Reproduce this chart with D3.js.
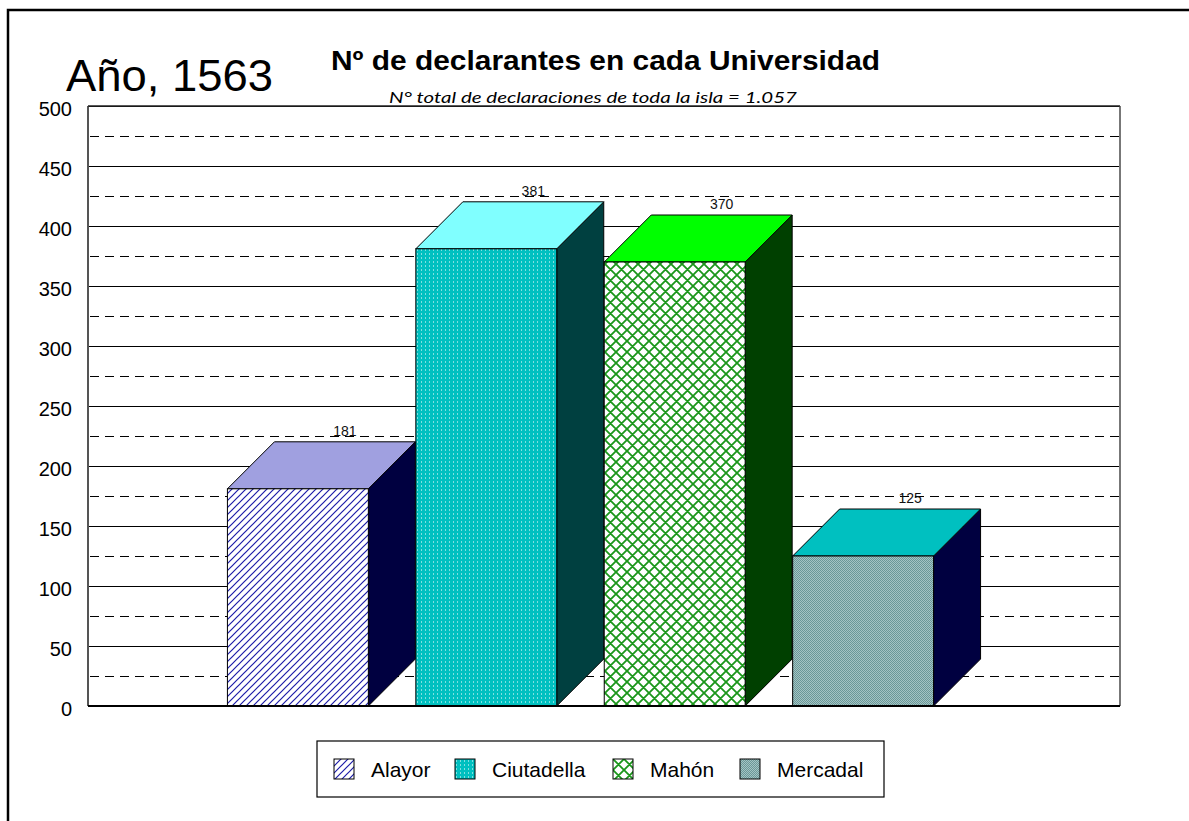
<!DOCTYPE html>
<html>
<head>
<meta charset="utf-8">
<script src="https://cdn.jsdelivr.net/npm/d3@7"></script>
<style>
  body { margin: 0; background: #fff; overflow: hidden; }
  svg { display: block; }
</style>
</head>
<body>
<svg id="chart"></svg>
<script>
// Nº de declarantes en cada Universidad, año 1563 (pseudo-3D column chart)
var categories = ['Alayor', 'Ciutadella', 'Mahón', 'Mercadal'];
var values = [181, 381, 370, 125];
var majorTicks = [0, 50, 100, 150, 200, 250, 300, 350, 400, 450, 500];
var minorTicks = [25, 75, 125, 175, 225, 275, 325, 375, 425, 475];
var frontFill = ['url(#p-alayor)', 'url(#p-ciutadella)', 'url(#p-mahon)', 'url(#p-mercadal)'];
var topFill = ['#a0a0e0', '#80ffff', '#00ff00', '#00c0c0'];
var sideFill = ['#000040', '#004040', '#004000', '#000040'];

var W = 1189, H = 821;
var plot = {left: 88, right: 1120, top: 106, bottom: 706};
var depth = 47;

var svg = d3.select('#chart').attr('width', W).attr('height', H);
var defs = svg.append('defs');

// fill patterns for the front faces
var pa = defs.append('pattern').attr('id', 'p-alayor')
	.attr('patternUnits', 'userSpaceOnUse').attr('width', 7).attr('height', 7);
pa.append('rect').attr('width', 7).attr('height', 7).attr('fill', '#fff');
pa.append('path').attr('d', 'M-1,1 L1,-1 M0,7 L7,0 M6,8 L8,6')
	.attr('stroke', '#1c1ca8').attr('stroke-width', 1.2);

var pc = defs.append('pattern').attr('id', 'p-ciutadella')
	.attr('patternUnits', 'userSpaceOnUse').attr('width', 4).attr('height', 4);
pc.append('rect').attr('width', 4).attr('height', 4).attr('fill', '#00c0c0');
pc.append('rect').attr('x', 1).attr('y', 1).attr('width', 1).attr('height', 2).attr('fill', '#7fe0e0');

var pm = defs.append('pattern').attr('id', 'p-mahon')
	.attr('patternUnits', 'userSpaceOnUse').attr('width', 11).attr('height', 11);
pm.append('rect').attr('width', 11).attr('height', 11).attr('fill', '#fff');
pm.append('path').attr('d', 'M0,0 L11,11 M11,0 L0,11 M-1,10 L1,12 M10,-1 L12,1 M-1,1 L1,-1 M10,12 L12,10')
	.attr('stroke', '#1a961a').attr('stroke-width', 1.8);

var pr = defs.append('pattern').attr('id', 'p-mercadal')
	.attr('patternUnits', 'userSpaceOnUse').attr('width', 2).attr('height', 2);
pr.append('rect').attr('width', 2).attr('height', 2).attr('fill', '#a4c4c4');
pr.append('rect').attr('width', 1).attr('height', 1).attr('fill', '#6a9898');
pr.append('rect').attr('x', 1).attr('y', 1).attr('width', 1).attr('height', 1).attr('fill', '#6a9898');

// outer frame: only its top and left edges fall inside the picture
svg.append('path')
	.attr('d', 'M8,' + H + 'L8,10L' + W + ',10')
	.attr('fill', 'none').attr('stroke', '#000').attr('stroke-width', 2.5);

var x = d3.scaleBand()
	.domain(categories)
	.range([plot.left, plot.right - depth])
	.paddingInner(0.252)
	.paddingOuter(0.74);

var y = d3.scaleLinear()
	.domain([0, 500])
	.range([plot.bottom, plot.top]);

// gridlines
svg.append('g').attr('shape-rendering', 'crispEdges').selectAll('line')
	.data(majorTicks)
	.join('line')
		.attr('x1', plot.left).attr('x2', plot.right)
		.attr('y1', function(d) { return y(d); }).attr('y2', function(d) { return y(d); })
		.attr('stroke', '#000').attr('stroke-width', 1);

svg.append('g').attr('shape-rendering', 'crispEdges').selectAll('line')
	.data(minorTicks)
	.join('line')
		.attr('x1', plot.left + 2).attr('x2', plot.right)
		.attr('y1', function(d) { return y(d); }).attr('y2', function(d) { return y(d); })
		.attr('stroke', '#000').attr('stroke-width', 1)
		.attr('stroke-dasharray', '9,6');

// y axis labels
var yAxis = svg.append('g')
	.attr('transform', 'translate(' + plot.left + ',0)')
	.call(d3.axisLeft(y).tickValues(majorTicks).tickSize(0).tickPadding(16));
yAxis.select('.domain').remove();
yAxis.selectAll('text')
	.attr('font-family', 'Liberation Sans, Arial, sans-serif')
	.attr('font-size', 20)
	.attr('fill', '#000')
	.attr('dy', '0.45em');

// plot frame
svg.append('line').attr('x1', plot.left).attr('x2', plot.left).attr('y1', plot.top).attr('y2', plot.bottom)
	.attr('stroke', '#555').attr('stroke-width', 2);
svg.append('line').attr('x1', plot.right).attr('x2', plot.right).attr('y1', plot.top).attr('y2', plot.bottom)
	.attr('stroke', '#777').attr('stroke-width', 2);
svg.append('line').attr('x1', plot.left).attr('x2', plot.right).attr('y1', plot.top).attr('y2', plot.top)
	.attr('stroke', '#222').attr('stroke-width', 1.5);

// bars: side, top, front
var bars = svg.append('g').selectAll('g.bar')
	.data(values)
	.join('g')
		.attr('class', 'bar');

bars.append('path')
	.attr('d', function(d, i) {
		var x1 = x(categories[i]) + x.bandwidth(), y0 = y(0), y1 = y(d);
		return 'M' + x1 + ',' + y1 + 'L' + (x1 + depth) + ',' + (y1 - depth) +
			'L' + (x1 + depth) + ',' + (y0 - depth) + 'L' + x1 + ',' + y0 + 'Z';
	})
	.attr('fill', function(d, i) { return sideFill[i]; })
	.attr('stroke', '#000').attr('stroke-width', 1);

bars.append('path')
	.attr('d', function(d, i) {
		var x0 = x(categories[i]), x1 = x0 + x.bandwidth(), y1 = y(d);
		return 'M' + x0 + ',' + y1 + 'L' + (x0 + depth) + ',' + (y1 - depth) +
			'L' + (x1 + depth) + ',' + (y1 - depth) + 'L' + x1 + ',' + y1 + 'Z';
	})
	.attr('fill', function(d, i) { return topFill[i]; })
	.attr('stroke', '#000').attr('stroke-width', 1);

bars.append('rect')
	.attr('x', function(d, i) { return x(categories[i]); })
	.attr('y', function(d) { return y(d); })
	.attr('width', x.bandwidth())
	.attr('height', function(d) { return y(0) - y(d); })
	.attr('fill', function(d, i) { return frontFill[i]; })
	.attr('stroke', '#000').attr('stroke-width', 1);

bars.append('text')
	.attr('x', function(d, i) { return x(categories[i]) + x.bandwidth() / 2 + depth; })
	.attr('y', function(d) { return y(d) - depth - 6; })
	.attr('text-anchor', 'middle')
	.attr('font-family', 'Liberation Sans, Arial, sans-serif')
	.attr('font-size', 14)
	.attr('fill', '#111')
	.text(function(d) { return d; });

// floor line
svg.append('line').attr('x1', plot.left).attr('x2', plot.right).attr('y1', plot.bottom).attr('y2', plot.bottom)
	.attr('stroke', '#000').attr('stroke-width', 2);

// titles
svg.append('text')
	.attr('x', 66).attr('y', 91)
	.attr('font-family', 'Liberation Sans, Arial, sans-serif')
	.attr('font-size', 45)
	.attr('textLength', 207).attr('lengthAdjust', 'spacingAndGlyphs')
	.text('Año, 1563');

svg.append('text')
	.attr('x', 331).attr('y', 70)
	.attr('font-family', 'Liberation Sans, Arial, sans-serif')
	.attr('font-weight', 'bold')
	.attr('font-size', 27)
	.attr('textLength', 549).attr('lengthAdjust', 'spacingAndGlyphs')
	.text('Nº de declarantes en cada Universidad');

svg.append('text')
	.attr('x', 389).attr('y', 103)
	.attr('font-family', 'Lato, sans-serif')
	.attr('font-style', 'italic')
	.attr('font-size', 16)
	.attr('textLength', 408).attr('lengthAdjust', 'spacingAndGlyphs')
	.text('N° total de declaraciones de toda la isla = 1.057');

// legend
var legend = svg.append('g');
legend.append('rect')
	.attr('x', 317).attr('y', 741).attr('width', 567).attr('height', 56)
	.attr('fill', '#fff').attr('stroke', '#000').attr('stroke-width', 1.2);

var legendX = [334, 455, 613, 740];
var items = legend.selectAll('g.item')
	.data(categories)
	.join('g')
		.attr('class', 'item')
		.attr('transform', function(d, i) { return 'translate(' + legendX[i] + ',759)'; });
items.append('rect')
	.attr('width', 20).attr('height', 20)
	.attr('fill', function(d, i) { return frontFill[i]; })
	.attr('stroke', '#000').attr('stroke-width', 1);
items.append('text')
	.attr('x', 37).attr('y', 18)
	.attr('font-family', 'Liberation Sans, Arial, sans-serif')
	.attr('font-size', 21)
	.text(function(d) { return d; });
</script>
</body>
</html>
